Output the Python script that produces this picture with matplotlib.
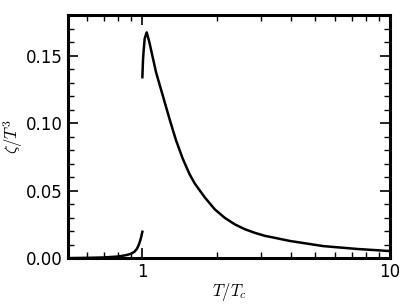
import numpy as np
import matplotlib
matplotlib.use("Agg")
import matplotlib.pyplot as plt
from matplotlib.ticker import FixedLocator, FixedFormatter, MultipleLocator, LogLocator, NullFormatter

plt.rcParams['mathtext.fontset'] = 'cm'

# ---- data ----
# branch below T_c
t_below = [0.50, 0.60, 0.70, 0.80, 0.86, 0.90, 0.93, 0.95, 0.96, 0.97, 0.98, 0.99, 1.00]
zeta_below = [0.0000, 0.0002, 0.0005, 0.0012, 0.0022, 0.0032, 0.0048, 0.0068, 0.0085, 0.0105, 0.0130, 0.0160, 0.0195]

# branch above T_c
t_above = [1.000, 1.006, 1.012, 1.022, 1.041, 1.067, 1.135, 1.208, 1.286, 1.367, 1.455, 1.549,
           1.627, 1.786, 1.961, 2.152, 2.362, 2.593, 2.846, 3.123, 3.428, 3.940, 5.370, 7.330, 10.00]
zeta_above = [0.1340, 0.1470, 0.1538, 0.1627, 0.1672, 0.1600, 0.1378, 0.1206, 0.1033, 0.0873, 0.0737, 0.0623,
              0.0553, 0.0450, 0.0361, 0.0298, 0.0250, 0.0214, 0.0187, 0.0165, 0.0150, 0.0127, 0.0089, 0.0068, 0.0052]

fig = plt.figure(figsize=(4.11, 3.08), dpi=100)
ax = fig.add_axes([0.165, 0.162, 0.784, 0.789])

ax.plot(t_below, zeta_below, color='black', linewidth=1.8)
ax.plot(t_above, zeta_above, color='black', linewidth=1.8)

ax.set_xscale('log')
ax.set_xlim(0.5, 10)
ax.set_ylim(0, 0.18)

ax.xaxis.set_major_locator(FixedLocator([1, 10]))
ax.xaxis.set_major_formatter(FixedFormatter(['1', '10']))
ax.xaxis.set_minor_locator(LogLocator(base=10, subs=np.arange(2, 10)))
ax.xaxis.set_minor_formatter(NullFormatter())
ax.yaxis.set_major_locator(MultipleLocator(0.05))
ax.yaxis.set_minor_locator(MultipleLocator(0.01))
ax.yaxis.set_major_formatter(plt.FuncFormatter(lambda v, p: f'{v:.2f}'))

ax.tick_params(which='both', direction='in', top=True, right=True, labelsize=12)
ax.tick_params(which='major', length=7, width=1.2)
ax.tick_params(which='minor', length=4, width=1.0)
for s in ax.spines.values():
    s.set_linewidth(2.2)

ax.set_xlabel(r'$T/T_c$', fontsize=12, labelpad=0)
ax.set_ylabel(r'$\zeta/T^3$', fontsize=12, labelpad=1)

fig.savefig('out.png', dpi=100)
